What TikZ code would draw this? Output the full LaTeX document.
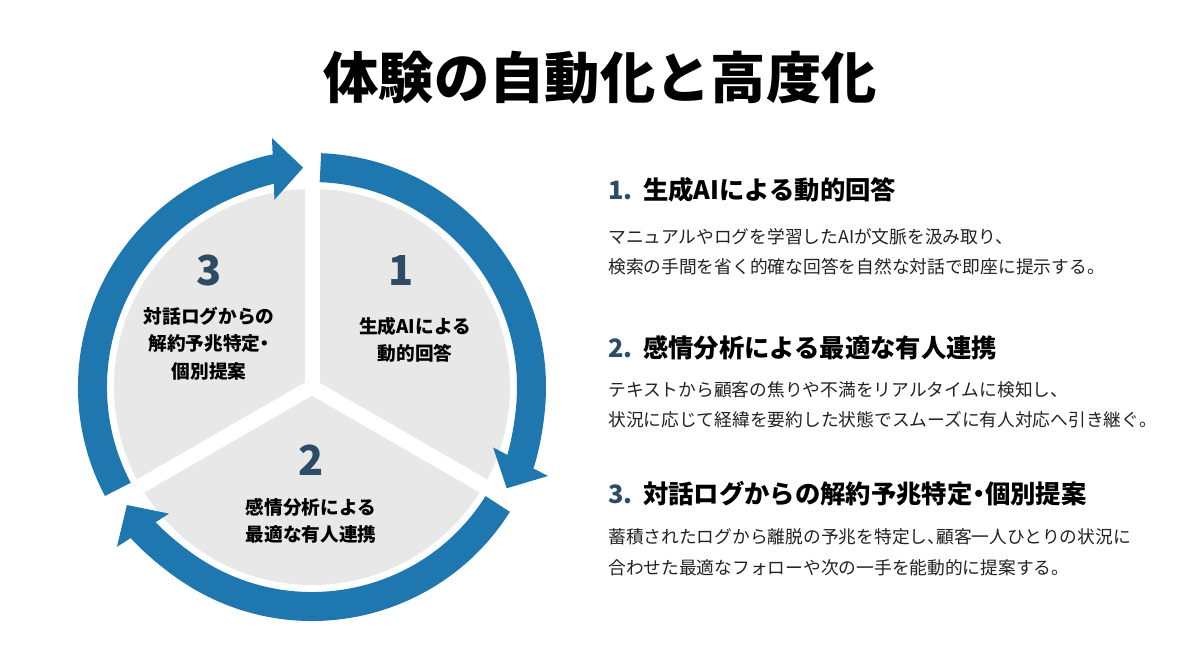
\documentclass[tikz,border=0pt]{standalone}
\usepackage{fontspec}
\setmainfont{Noto Sans CJK JP}
\usetikzlibrary{arrows.meta,positioning,calc}
\definecolor{ringblue}{HTML}{1F77B0}
\definecolor{piegray}{HTML}{E8E8E8}
\definecolor{numblue}{HTML}{2D4B64}
\definecolor{bodytext}{HTML}{222222}
\newcommand{\hdot}{\kern-0.25em・\kern-0.25em}
\tikzset{
  ring/.style={draw=ringblue,line width=21.75pt,-{Triangle[length=22.5pt 0 0,width=45pt 0 0]}},
  cut/.style={draw=white,line width=11.25pt},
  dig/.style={font=\fontsize{31}{31}\selectfont\bfseries,text=numblue,inner sep=0pt},
  lbl/.style={font=\fontsize{14}{20.5}\selectfont\bfseries,align=center,inner sep=0pt},
  num/.style={font=\fontsize{19}{19}\selectfont\bfseries,text=numblue,anchor=west,inner sep=0pt},
  hd/.style={font=\fontsize{19}{19}\selectfont\bfseries,anchor=west,inner sep=0pt},
  bd/.style={font=\fontsize{13.3}{13.3}\selectfont,text=bodytext,anchor=west,inner sep=0pt},
}

\begin{document}
\begin{tikzpicture}[x=0.75pt,y=0.75pt]
  \useasboundingbox[fill=white] (0,0) rectangle (1200,669);
  \node[font=\fontsize{41.5}{41.5}\selectfont\bfseries,inner sep=0pt] (title) at (600,591) {体験の自動化と高度化};

  % cycle
  \coordinate (c) at (312,282);
  \fill[piegray] (c) circle[radius=198];
  \draw[cut] (c) -- ++(90:215);
  \draw[cut] (c) -- ++(-30:215);
  \draw[cut] (c) -- ++(210:215);
  \draw[ring] ($(c)+(87.8:219.5)$) arc[start angle=87.8,end angle=-27.5,radius=219.5];
  \draw[ring] ($(c)+(-32.2:219.5)$) arc[start angle=-32.2,end angle=-147.5,radius=219.5];
  \draw[ring] ($(c)+(207.8:219.5)$) arc[start angle=207.8,end angle=92.3,radius=219.5];

  \node[dig] (d1) at (401,399) {1};
  \node[lbl] (l1) at (415,329) {生成AIによる\\動的回答};
  \node[dig] (d2) at (311,209) {2};
  \node[lbl] (l2) at (311,148) {感情分析による\\最適な有人連携};
  \node[dig] (d3) at (209,399) {3};
  \node[lbl] (l3) at (209,325.5) {対話ログからの\\解約予兆特定\hdot\\個別提案};

  % descriptions
  \node[num] (n1) at (608,479) {1.};
  \node[hd] (h1) at (643,479) {生成AIによる動的回答};
  \node[bd] (b1a) at (608,432) {マニュアルやログを学習したAIが文脈を汲み取り、};
  \node[bd] (b1b) at (608,402) {検索の手間を省く的確な回答を自然な対話で即座に提示する。};

  \node[num] (n2) at (608,321) {2.};
  \node[hd] (h2) at (643,321) {感情分析による最適な有人連携};
  \node[bd] (b2a) at (608,279) {テキストから顧客の焦りや不満をリアルタイムに検知し、};
  \node[bd] (b2b) at (608,249) {状況に応じて経緯を要約した状態でスムーズに有人対応へ引き継ぐ。};

  \node[num] (n3) at (608,175) {3.};
  \node[hd] (h3) at (643,175) {対話ログからの解約予兆特定\hdot 個別提案};
  \node[bd] (b3a) at (608,132) {蓄積されたログから離脱の予兆を特定し、\kern-0.5em顧客一人ひとりの状況に};
  \node[bd] (b3b) at (608,101) {合わせた最適なフォローや次の一手を能動的に提案する。};
\end{tikzpicture}
\end{document}
